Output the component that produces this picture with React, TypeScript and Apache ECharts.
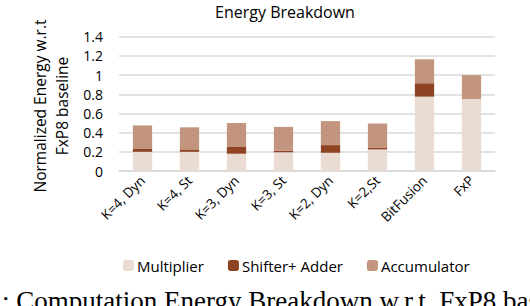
import React, { useEffect, useRef } from "react";
import * as echarts from "echarts";

const categories = ["K=4, Dyn", "K=4, St", "K=3, Dyn", "K=3, St", "K=2, Dyn", "K=2,St", "BitFusion", "FxP"];
const multiplier = [0.2, 0.2, 0.18, 0.195, 0.19, 0.225, 0.775, 0.75];
const shifterAdder = [0.035, 0.025, 0.07, 0.015, 0.08, 0.02, 0.14, 0];
const accumulator = [0.24, 0.23, 0.25, 0.25, 0.25, 0.25, 0.25, 0.25];
const yTicks = [0, 0.2, 0.4, 0.6, 0.8, 1, 1.2, 1.4];

const FONT = "Open Sans";

export default function App() {
  const ref = useRef<HTMLDivElement>(null);
  useEffect(() => {
    if (!ref.current) return;
    const chart = echarts.init(ref.current, null, { renderer: "svg" });
    chart.setOption({
      animation: false,
      backgroundColor: "#ffffff",
      title: {
        text: "Energy Breakdown",
        left: 280,
        top: -1,
        textAlign: "center",
        textStyle: { fontFamily: FONT, fontSize: 16, fontWeight: "normal", color: "#000" },
      },
      grid: { left: 119, right: 35, top: 36.7, bottom: 135 },
      legend: {
        top: 253,
        left: 118,
        itemWidth: 11,
        itemHeight: 11,
        itemGap: 24,
        textStyle: { fontFamily: FONT, fontSize: 15, color: "#000", padding: [0, 0, 0, -2] },
        data: ["Multiplier", "Shifter+ Adder", "Accumulator"],
      },
      xAxis: {
        type: "category",
        data: categories,
        axisLine: { lineStyle: { color: "#d9d9d9", width: 1.5 } },
        axisTick: { show: false },
        axisLabel: { rotate: 45, fontFamily: FONT, fontSize: 13.5, color: "#000", margin: 7, interval: 0 },
      },
      yAxis: {
        type: "value",
        min: yTicks[0],
        max: yTicks[yTicks.length - 1],
        interval: 0.2,
        axisLine: { show: false },
        axisTick: { show: false },
        splitLine: { lineStyle: { color: "#d9d9d9", width: 1.5 } },
        axisLabel: { fontFamily: FONT, fontSize: 14, color: "#000", margin: 16 },
      },
      series: [
        { name: "Multiplier", type: "bar", stack: "e", data: multiplier, barWidth: "41%", itemStyle: { color: "#EADBD3" } },
        { name: "Shifter+ Adder", type: "bar", stack: "e", data: shifterAdder, itemStyle: { color: "#8E4322" } },
        { name: "Accumulator", type: "bar", stack: "e", data: accumulator, itemStyle: { color: "#C3957F" } },
      ],
      graphic: [
        {
          type: "text",
          x: 51,
          y: 106,
          rotation: Math.PI / 2,
          style: {
            text: "Normalized Energy w.r.t\nFxP8 baseline",
            fontFamily: FONT,
            fontSize: 15.5,
            lineHeight: 22,
            align: "center",
            verticalAlign: "middle",
            fill: "#000",
          },
        },
        {
          type: "text",
          x: 2,
          y: 287,
          style: {
            text: ": Computation Energy Breakdown w.r.t. FxP8 baseline",
            fontFamily: "Liberation Serif",
            fontSize: 27,
            fill: "#000",
          },
        },
      ],
    });
    return () => chart.dispose();
  }, []);
  return <div ref={ref} style={{ width: 530, height: 306, position: "absolute", left: 0, top: 0 }} />;
}
